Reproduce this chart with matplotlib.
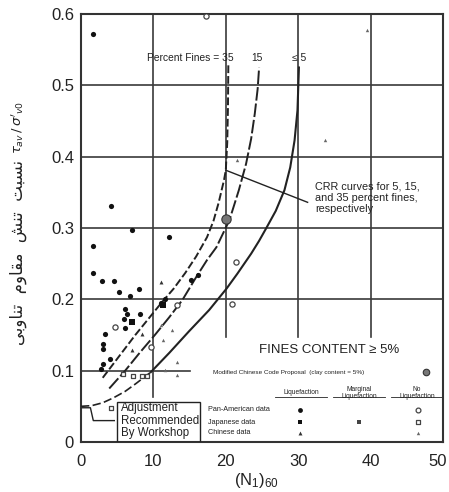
import matplotlib
matplotlib.use("Agg")
import matplotlib.pyplot as plt
from matplotlib.patches import Rectangle
from matplotlib.transforms import ScaledTranslation

plt.rcParams["font.family"] = ["Liberation Sans", "DejaVu Sans"]

# ---------------- data ----------------
# CRR boundary curves, (N1)60 vs cyclic stress ratio
crr5_n = [0, 1.5, 3, 4.5, 6.1, 7.6, 9.65, 12.2, 14.9, 17.7, 20.1, 21.6, 23.5, 24.6, 25.6, 26.9, 28.1, 28.9, 29.5, 29.9, 30.1]
crr5_y = [0.050, 0.051, 0.055, 0.062, 0.071, 0.082, 0.098, 0.125, 0.155, 0.185, 0.215, 0.236, 0.264, 0.282, 0.300, 0.324, 0.353, 0.385, 0.423, 0.465, 0.525]
crr5_dash_upto = 9.65   # workshop adjustment (dashed) below this blow count

crr15_n = [3.9, 6.1, 8.1, 10.2, 12.2, 14.0, 15.9, 17.4, 18.7, 20.5, 21.8, 22.8, 23.5, 24.0, 24.4, 24.6]
crr15_y = [0.075, 0.100, 0.125, 0.150, 0.175, 0.199, 0.231, 0.255, 0.273, 0.311, 0.353, 0.390, 0.425, 0.460, 0.495, 0.525]

crr35_n = [3.0, 4.5, 6.0, 7.5, 9.1, 11.1, 12.8, 14.4, 15.9, 17.4, 18.3, 19.0, 19.75, 20.0, 20.2, 20.3, 20.35]
crr35_y = [0.090, 0.110, 0.130, 0.150, 0.170, 0.195, 0.215, 0.237, 0.260, 0.287, 0.310, 0.335, 0.367, 0.381, 0.420, 0.470, 0.530]

# field case histories
pan_liq_n = [1.6, 4.2, 7.0, 12.2, 1.6, 1.7, 2.9, 4.6, 5.2, 6.7, 8.0, 6.1, 6.3, 6.0, 8.1, 6.1, 3.3, 3.0, 3.1, 4.0, 3.1, 2.8, 11.6, 11.1, 15.2, 16.2]
pan_liq_y = [0.572, 0.331, 0.297, 0.287, 0.275, 0.237, 0.226, 0.226, 0.210, 0.205, 0.215, 0.186, 0.179, 0.172, 0.180, 0.160, 0.152, 0.138, 0.131, 0.117, 0.109, 0.103, 0.201, 0.195, 0.227, 0.234]
jap_liq_n = [11.35, 7.1]
jap_liq_y = [0.192, 0.168]
chi_liq_n = [11.1, 7.0, 8.4]
chi_liq_y = [0.225, 0.129, 0.152]
pan_noliq_n = [17.3, 4.7, 21.4, 20.9, 9.7, 13.3]
pan_noliq_y = [0.597, 0.161, 0.252, 0.194, 0.133, 0.192]
jap_noliq_n = [4.1, 5.8, 7.2, 8.4, 9.1]
jap_noliq_y = [0.048, 0.095, 0.093, 0.093, 0.093]
chi_noliq_n = [39.5, 33.7, 21.6, 11.1, 12.5, 11.35, 13.3, 11.6, 13.3]
chi_noliq_y = [0.578, 0.423, 0.396, 0.164, 0.157, 0.143, 0.112, 0.101, 0.094]
mod_chinese_n = [20.0]
mod_chinese_y = [0.313]

x_ticks = [0, 10, 20, 30, 40, 50]
x_tick_labels = ["0", "10", "20", "30", "40", "50"]
y_ticks = [0, 0.1, 0.2, 0.3, 0.4, 0.5, 0.6]
y_tick_labels = ["0", "0.1", "0.2", "0.3", "0.4", "0.5", "0.6"]

ylabel_fa = "نسبت تنش مقاوم تناوبی"

# ---------------- Persian shaping (matplotlib has no text shaping) ----------------
FORMS = {
    "ن": ("\uFEE5", "\uFEE6", "\uFEE7", "\uFEE8"),
    "س": ("\uFEB1", "\uFEB2", "\uFEB3", "\uFEB4"),
    "ب": ("\uFE8F", "\uFE90", "\uFE91", "\uFE92"),
    "ت": ("\uFE95", "\uFE96", "\uFE97", "\uFE98"),
    "ش": ("\uFEB5", "\uFEB6", "\uFEB7", "\uFEB8"),
    "م": ("\uFEE1", "\uFEE2", "\uFEE3", "\uFEE4"),
    "ق": ("\uFED5", "\uFED6", "\uFED7", "\uFED8"),
    "ا": ("\uFE8D", "\uFE8E", None, None),
    "و": ("\uFEED", "\uFEEE", None, None),
    "ی": ("\uFBFC", "\uFBFD", "\uFBFE", "\uFBFF"),
}


def shape_rtl(s):
    out = []
    for i, c in enumerate(s):
        if c not in FORMS:
            out.append(c)
            continue
        f = FORMS[c]
        prev = s[i - 1] if i > 0 else None
        nxt = s[i + 1] if i + 1 < len(s) else None
        jp = prev in FORMS and FORMS[prev][2] is not None
        jn = nxt in FORMS and f[2] is not None
        if jp and jn:
            out.append(f[3])
        elif jp:
            out.append(f[1])
        elif jn:
            out.append(f[2])
        else:
            out.append(f[0])
    return "".join(reversed(out))


# ---------------- figure ----------------
W, H = 449, 492
fig = plt.figure(figsize=(W / 100, H / 100), dpi=100)
ax = fig.add_axes([81 / W, 1 - 442 / H, 362 / W, 428 / H])
ax.set_xlim(0, 50)
ax.set_ylim(0, 0.6)

ink = "#222222"
grid_c = "#3a3a3a"

# partial grid lines
for xv, ybot in [(10, 0.063), (20, 0.147), (30, 0.147), (40, 0.147)]:
    ax.plot([xv, xv], [ybot, 0.6], color=grid_c, lw=1.2, zorder=1)
for yv in [0.2, 0.3, 0.4, 0.5]:
    ax.plot([0, 50], [yv, yv], color=grid_c, lw=1.2, zorder=1)
ax.plot([0, 15], [0.1, 0.1], color=grid_c, lw=1.2, zorder=1)

# CRR curves
dash_pts = [(n, y) for n, y in zip(crr5_n, crr5_y) if n <= crr5_dash_upto]
solid_pts = [(n, y) for n, y in zip(crr5_n, crr5_y) if n >= crr5_dash_upto]
ax.plot([p[0] for p in dash_pts], [p[1] for p in dash_pts], color=ink, lw=1.2,
        ls=(0, (5, 2)), zorder=3)
ax.plot([p[0] for p in solid_pts], [p[1] for p in solid_pts], color=ink, lw=1.5, zorder=3)
ax.plot(crr15_n, crr15_y, color=ink, lw=1.4, ls=(0, (7, 1.5)), zorder=3)
ax.plot(crr35_n, crr35_y, color=ink, lw=1.4, ls=(0, (4, 1.5)), zorder=3)

# leader from workshop adjustment to note box
ax.plot([0.2, 1.3, 1.7, 4.6], [0.048, 0.048, 0.030, 0.030], color=ink, lw=1.0, zorder=3)

# case-history points
ms = 14
ax.scatter(pan_liq_n, pan_liq_y, s=ms, marker="o", color="#111111", zorder=4, linewidths=0)
ax.scatter(jap_liq_n, jap_liq_y, s=ms, marker="s", color="#111111", zorder=4, linewidths=0)
ax.scatter(chi_liq_n, chi_liq_y, s=8, marker="^", color="#333333", zorder=4, linewidths=0)
ax.scatter(pan_noliq_n, pan_noliq_y, s=14, marker="o", facecolor="white",
           edgecolor="#444444", linewidths=0.9, zorder=4)
ax.scatter(jap_noliq_n, jap_noliq_y, s=10, marker="s", facecolor="white",
           edgecolor="#444444", linewidths=0.9, zorder=4)
ax.scatter(chi_noliq_n, chi_noliq_y, s=6, marker="^", color="#666666", zorder=4, linewidths=0)
ax.scatter(mod_chinese_n, mod_chinese_y, s=45, marker="o", facecolor="#777777",
           edgecolor="#333333", linewidths=0.8, zorder=4)

# curve labels and pointer
ax.text(21.1, 0.538, "Percent Fines = 35", fontsize=7.4, ha="right", va="center", color=ink)
ax.text(24.3, 0.538, "15", fontsize=7.4, ha="center", va="center", color=ink)
ax.text(30.1, 0.538, "≤ 5", fontsize=7.4, ha="center", va="center", color=ink)
ax.plot([20.0, 31.3], [0.381, 0.336], color=ink, lw=1.0, zorder=3)
ax.text(32.3, 0.342, "CRR curves for 5, 15,\nand 35 percent fines,\nrespectively",
        fontsize=7.8, ha="left", va="center", linespacing=1.15, color=ink)

# workshop note box
ax.add_patch(Rectangle((5.0, 0.0), 11.4, 0.056, fill=False, edgecolor=ink, lw=1.0, zorder=3))
ax.text(5.5, 0.030, "Adjustment\nRecommended\nBy Workshop", fontsize=8.3, ha="left",
        va="center", linespacing=1.05, color=ink, zorder=5)

# legend table
ax.text(34.3, 0.129, "FINES CONTENT ≥ 5%", fontsize=9.5, ha="center", va="center", color=ink)
ax.text(18.2, 0.098, "Modified Chinese Code Proposal  (clay content = 5%)", fontsize=4.6,
        ha="left", va="center", color=ink)
ax.scatter([47.6], [0.098], s=22, marker="o", facecolor="#777777", edgecolor="#333333",
           linewidths=0.8, zorder=4)

hdr_fs = 4.8
ax.text(30.4, 0.069, "Liquefaction", fontsize=hdr_fs, ha="center", va="center", color=ink)
ax.text(38.4, 0.069, "Marginal\nLiquefaction", fontsize=hdr_fs, ha="center", va="center",
        linespacing=1.1, color=ink)
ax.text(46.4, 0.069, "No\nLiquefaction", fontsize=hdr_fs, ha="center", va="center",
        linespacing=1.1, color=ink)
for cx, half in [(30.4, 3.6), (38.4, 3.6), (46.4, 3.6)]:
    ax.plot([cx - half, cx + half], [0.0625, 0.0625], color=ink, lw=0.6)

row_fs = 5.2
ax.text(17.5, 0.045, "Pan-American data", fontsize=row_fs, ha="left", va="center", color=ink)
ax.text(17.5, 0.028, "Japanese data", fontsize=row_fs, ha="left", va="center", color=ink)
ax.text(17.5, 0.013, "Chinese data", fontsize=row_fs, ha="left", va="center", color=ink)
ax.scatter([30.3], [0.045], s=12, marker="o", color="#111111", linewidths=0, zorder=4)
ax.scatter([30.3], [0.028], s=12, marker="s", color="#111111", linewidths=0, zorder=4)
ax.scatter([30.3], [0.013], s=8, marker="^", color="#333333", linewidths=0, zorder=4)
ax.scatter([38.4], [0.028], s=8, marker="s", color="#444444", linewidths=0, zorder=4)
ax.scatter([46.5], [0.045], s=12, marker="o", facecolor="white", edgecolor="#444444",
           linewidths=0.9, zorder=4)
ax.scatter([46.5], [0.028], s=9, marker="s", facecolor="white", edgecolor="#444444",
           linewidths=0.9, zorder=4)
ax.scatter([46.5], [0.013], s=6, marker="^", color="#666666", linewidths=0, zorder=4)

# axes styling
ax.set_xticks(x_ticks)
ax.set_xticklabels(x_tick_labels)
ax.set_yticks(y_ticks)
ax.set_yticklabels(y_tick_labels)
ax.tick_params(length=0, labelsize=12, colors=ink)
ax.tick_params(axis="x", pad=9)
ax.tick_params(axis="y", pad=5)
for sp in ax.spines.values():
    sp.set_color("#333333")
    sp.set_linewidth(1.5)

# nudge the last x tick label so it stays inside the canvas
last = ax.get_xticklabels()[-1]
last.set_transform(last.get_transform() + ScaledTranslation(-5 / 100, 0, fig.dpi_scale_trans))

fig.text(256 / W, 1 - 481 / H, r"$\mathregular{(N_1)_{60}}$", fontsize=12, ha="center",
         va="center", color=ink)
fig.text(18 / W, 1 - 252 / H, shape_rtl(ylabel_fa).replace(" ", "  "), fontsize=12,
         rotation=90, ha="center", va="center", family=["DejaVu Sans"], color=ink)
fig.text(18 / W, 1 - 128 / H, r"$\tau_{av}\,/\,\sigma'_{v0}$", fontsize=9.5, rotation=90,
         ha="center", va="center", color=ink)

fig.savefig("out.png", dpi=100)
